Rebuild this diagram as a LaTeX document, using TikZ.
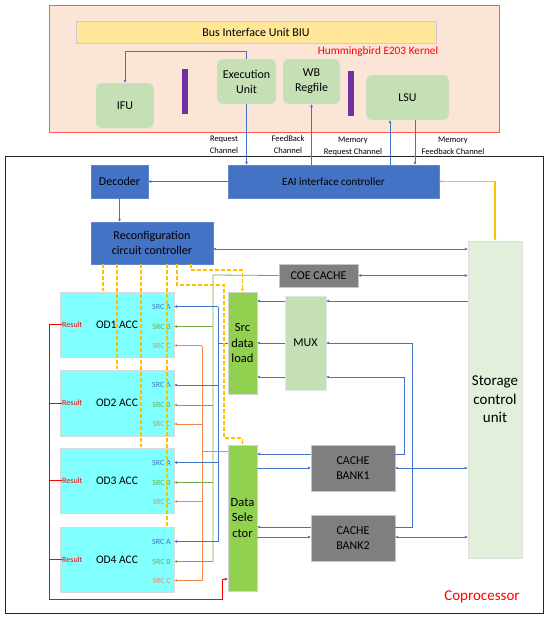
\documentclass[tikz,border=0pt]{standalone}
\usepackage{fontspec}
\setmainfont{Carlito}
\usetikzlibrary{positioning, calc, arrows.meta}
\definecolor{kernbg}{RGB}{251,229,214}
\definecolor{kernred}{RGB}{255,90,90}
\definecolor{biuyel}{RGB}{255,230,153}
\definecolor{unitgrn}{RGB}{197,224,180}
\definecolor{barpur}{RGB}{112,48,160}
\definecolor{ctrlblue}{RGB}{68,114,196}
\definecolor{cachegry}{RGB}{127,127,127}
\definecolor{loadgrn}{RGB}{146,208,80}
\definecolor{acccyan}{RGB}{128,255,255}
\definecolor{scugrn}{RGB}{226,239,218}
\definecolor{ctlyel}{RGB}{255,192,0}
\definecolor{srcblue}{RGB}{68,114,196}
\definecolor{srcgrn}{RGB}{112,173,71}
\definecolor{srcorg}{RGB}{240,138,75}

\begin{document}
\begin{tikzpicture}[x=1pt,y=-1pt,
  box/.style={draw=gray!35, inner sep=0pt, align=center, font=\fontsize{12}{15}\selectfont},
  unit/.style={box, fill=unitgrn, draw=gray!20, rounded corners=5pt},
  ctrl/.style={box, fill=ctrlblue, draw=ctrlblue!85!white},
  cache/.style={box, fill=cachegry, draw=gray!45},
  load/.style={box, fill=loadgrn, font=\fontsize{12.5}{15.5}\selectfont},
  acc/.style={box, fill=acccyan, draw=gray!30, font=\fontsize{11.5}{14}\selectfont},
  tag/.style={inner sep=0pt, font=\fontsize{8}{9}\selectfont},
  chan/.style={inner sep=0pt, align=center, font=\fontsize{8.5}{12}\selectfont},
  tip/.style={-{Latex[length=3pt,width=3pt]}},
  both/.style={{Latex[length=3pt,width=3pt]}-{Latex[length=3pt,width=3pt]}},
  wire/.style={line width=0.8pt, draw=srcblue},
  ctl/.style={line width=1.1pt, draw=ctlyel, dashed, dash pattern=on 4pt off 2pt}]
\useasboundingbox (0,0) rectangle (550,619);

\node[draw=kernred, line width=1pt, fill=kernbg, minimum width=450, minimum height=127] (kern) at (274,68.5) {};
\node[box, fill=biuyel, draw=gray!40, minimum width=360, minimum height=22] (biu) at (256,32) {Bus Interface Unit BIU};
\node[text=red, font=\fontsize{11.3}{13}\selectfont] (kname) at (378,52) {Hummingbird E203 Kernel};
\node[unit, minimum width=58, minimum height=45] (ifu) at (125,105.5) {IFU};
\node[fill=barpur, minimum width=6, minimum height=45, inner sep=0pt] (bar1) at (185,91.5) {};
\node[unit, minimum width=59, minimum height=45] (eu) at (246.5,81.5) {Execution\\Unit};
\node[unit, minimum width=57, minimum height=45] (wb) at (311.5,81.5) {WB\\Regfile};
\node[fill=barpur, minimum width=6, minimum height=45, inner sep=0pt] (bar2) at (351,93.5) {};
\node[unit, minimum width=83, minimum height=45] (lsu) at (407.5,97.5) {LSU};

\node[chan] (reqch) at (224,145) {Request\\Channel};
\node[chan] (fbch) at (288,145) {FeedBack\\Channel};
\node[chan] (mreqch) at (353,146) {Memory\\Request Channel};
\node[chan] (mfbch) at (453,146) {Memory\\Feedback Channel};

\node[draw=black!85, line width=0.8pt, minimum width=538, minimum height=457] (copro) at (274,384.5) {};
\node[text=red, font=\fontsize{15}{17}\selectfont] (cname) at (482,597) {Coprocessor};

\node[ctrl, minimum width=211, minimum height=33, font=\fontsize{11}{13}\selectfont] (eai) at (333.5,181.5) {EAI interface controller};
\node[ctrl, minimum width=57, minimum height=33] (dec) at (119.5,181.5) {Decoder};
\node[ctrl, minimum width=122, minimum height=42] (rcc) at (152,243) {Reconfiguration\\circuit controller};
\node[box, fill=scugrn, draw=gray!25, minimum width=54, minimum height=317, font=\fontsize{15}{18.5}\selectfont] (scu) at (495,399.5) {Storage\\control\\unit};
\node[cache, minimum width=79, minimum height=23] (coe) at (318.5,275.5) {COE CACHE};
\node[box, fill=unitgrn, draw=gray!20, minimum width=41, minimum height=94] (mux) at (305.5,343) {MUX};
\node[load, minimum width=29, minimum height=102] (sdl) at (242.5,343) {Src\\data\\load};
\node[cache, minimum width=84, minimum height=46] (cb1) at (353,468) {CACHE\\BANK1};
\node[cache, minimum width=84, minimum height=46] (cb2) at (353,538) {CACHE\\BANK2};
\node[load, minimum width=29, minimum height=146] (ds) at (242.5,518) {Data\\Sele\\ctor};

\foreach \i/\y/\h in {1/324.5/65, 2/403/66, 3/480.5/65, 4/559.5/65} {
  \node[acc, minimum width=114, minimum height=\h] (od\i) at (117,\y) {OD\i{} ACC};
  \node[tag, text=red, anchor=west] (res\i) at (62,\y) {Result};
  \node[tag, text=srcblue, anchor=east] (sa\i) at (171,\y-18) {SRC A};
  \node[tag, text=srcgrn, anchor=east] (sb\i) at (171,\y+2) {SRC B};
  \node[tag, text=srcorg, anchor=east] (sc\i) at (171,\y+21) {SRC C};
}

\coordinate (abus) at (218,343);
\coordinate (bbus) at (213,275);
\coordinate (cbus) at (202,451);
\coordinate (rbus) at (49,599);

% kernel <-> coprocessor channels
\draw[wire, tip] (eu.north) -- ++(0,-7) -| (ifu.north);
\draw[wire, tip] (eu.south) -- (eai.north -| eu.south);
\draw[wire, tip] (eai.north -| wb.south) -- (wb.south);
\draw[wire, tip] (eai.north -| 390,0) -- (lsu.south -| 390,0);
\draw[wire, tip] (lsu.south -| 415,0) -- (eai.north -| 415,0);
\draw[wire, tip] (eai.west) -- (dec.east);
\draw[wire, tip] (dec.south) -- (rcc.north -| dec.south);
\draw[line width=1.1pt, draw=ctlyel, both] (eai.east) -| (scu.north);
\draw[wire, both] (rcc.east |- 0,249) -- (scu.west |- 0,249);
\draw[wire, both] (coe.east) -- (scu.west |- coe.east);
\draw[wire, tip] (scu.west |- 0,301) -- (mux.east |- 0,301);
\foreach \y in {301,343,377}
  \draw[wire, tip] (mux.west |- 0,\y) -- (sdl.east |- 0,\y);
\draw[wire, tip] (cb2.east |- 0,527) -| (412,343) -- (mux.east |- 0,343);
\draw[wire, tip] (cb1.east |- 0,454) -| (404,377) -- (mux.east |- 0,377);
\draw[wire, tip] (cb1.west |- 0,454) -- (ds.east |- 0,454);
\draw[wire, tip] (ds.east |- 0,468) -- (cb1.west |- 0,468);
\draw[wire, tip] (cb2.west |- 0,527) -- (ds.east |- 0,527);
\draw[wire, tip] (ds.east |- 0,537) -- (cb2.west |- 0,537);
\draw[wire, both] (cb1.east) -- (scu.west |- cb1.east);
\draw[wire, both] (cb2.east |- 0,537) -- (scu.west |- 0,537);

% operand buses
\draw[wire] (sdl.west |- abus) -- (abus);
\draw[wire] (abus |- sa1) -- (abus |- sa4);
\draw[wire, srcgrn] (coe.west) -- (bbus) -- (bbus |- sb4);
\draw[wire, srcorg] (ds.west |- cbus) -- (cbus);
\draw[wire, srcorg] (cbus |- sc1) -- (cbus |- sc4);
\foreach \i in {1,...,4} {
  \draw[wire, tip] (abus |- sa\i) -- (od\i.east |- sa\i);
  \draw[wire, srcgrn, tip] (bbus |- sb\i) -- (od\i.east |- sb\i);
  \draw[wire, srcorg, tip] (cbus |- sc\i) -- (od\i.east |- sc\i);
  \draw[wire, red] (res\i.west) -- (rbus |- res\i.west);
}
\draw[wire, red, tip] (rbus |- res1.west) -- (rbus) -- (222,599) -- (222,579) -- (ds.west |- 0,579);

% configuration
\foreach \x/\i in {103/1, 117/2, 141/3, 167/4}
  \draw[ctl, tip] (rcc.south -| \x,0) -- (od\i.north -| \x,0);
\draw[ctl, tip] (rcc.south -| 177,0) |- (224,285) -- (224,438) -| (ds.north);
\draw[ctl, tip] (rcc.south -| 191,0) |- (230,270) -| (sdl.north);
\end{tikzpicture}
\end{document}
